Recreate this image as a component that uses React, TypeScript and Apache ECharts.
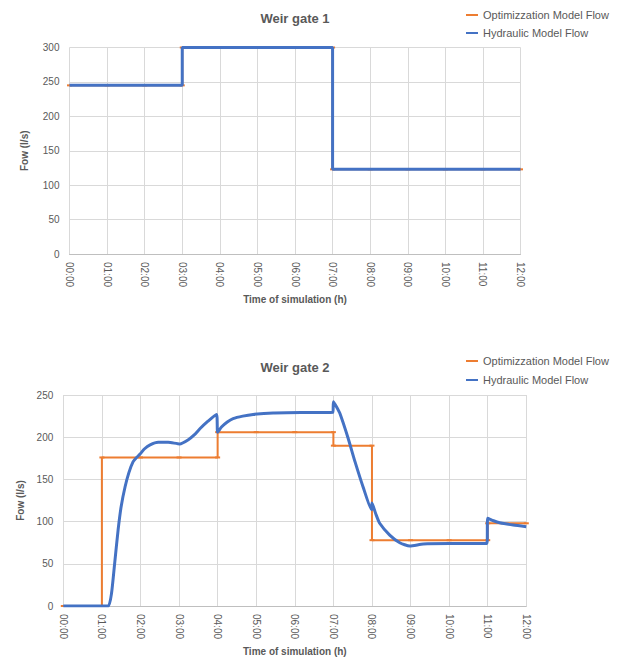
import React, { useEffect, useRef } from 'react';
import * as echarts from 'echarts';

const timeLabels = ['00:00', '01:00', '02:00', '03:00', '04:00', '05:00', '06:00', '07:00', '08:00', '09:00', '10:00', '11:00', '12:00'];
const seriesNames = ['Optimizzation Model Flow', 'Hydraulic Model Flow'];

// Weir gate 1 (hours, l/s)
const gate1OptTime = [0, 1, 2, 3, 3, 4, 5, 6, 7, 7, 8, 9, 10, 11, 12];
const gate1OptFlow = [245, 245, 245, 245, 300, 300, 300, 300, 300, 123, 123, 123, 123, 123, 123];
const gate1HydTime = [0, 3, 3, 7, 7, 12];
const gate1HydFlow = [245, 245, 300, 300, 123, 123];

// Weir gate 2 (hours, l/s)
const gate2OptTime = [0, 1, 1, 2, 3, 4, 4, 5, 6, 7, 7, 8, 8, 9, 10, 11, 11, 12];
const gate2OptFlow = [0, 0, 176, 176, 176, 176, 206, 206, 206, 206, 190, 190, 78, 78, 78, 78, 98, 98];
const gate2HydTime = [0, 0.5, 1, 1.17, 1.25, 1.33, 1.42, 1.5, 1.6, 1.7, 1.81, 1.9, 1.99, 2.1, 2.25, 2.46, 2.72, 3.02, 3.24, 3.4, 3.54, 3.75, 3.97, 4.0, 4.1, 4.25, 4.4, 4.65, 4.92, 5.44, 6.3, 6.99, 7.0, 7.08, 7.17, 7.38, 7.56, 7.77, 7.99, 8.0, 8.1, 8.2, 8.46, 8.72, 8.98, 9.33, 10.02, 10.98, 11.0, 11.15, 11.31, 11.66, 12.0];
const gate2HydFlow = [0, 0, 0, 0, 15, 50, 90, 118, 141, 158, 171, 176, 180, 186, 191, 194, 194, 192, 197, 203, 210, 219, 227, 206, 212, 218, 222, 225, 227, 228.7, 229.3, 229.6, 242, 236, 228, 199, 171, 141, 114, 122, 109, 98, 84, 75, 71, 73.5, 74, 74, 104, 101, 98.7, 96, 94];

const ORANGE = '#ED7D31';
const BLUE = '#4472C4';
const TEXT = '#595959';
const GRID = '#d9d9d9';
const FONT = '"Liberation Sans", Arial, sans-serif';

const pairs = (t: number[], v: number[]) => t.map((x, i) => [x, v[i]]);

function xAxis(gridIndex: number) {
  return {
    type: 'value',
    gridIndex,
    min: 0,
    max: 12,
    interval: 1,
    name: 'Time of simulation (h)',
    nameLocation: 'middle',
    nameGap: 40,
    nameTextStyle: { color: TEXT, fontWeight: 'bold', fontSize: 10, fontFamily: FONT },
    axisLine: { show: true, lineStyle: { color: '#bfbfbf', width: 1 } },
    axisTick: { show: false },
    axisLabel: {
      rotate: -90,
      color: TEXT,
      fontSize: 10,
      fontFamily: FONT,
      margin: 8,
      formatter: (v: number) => timeLabels[Math.round(v)] ?? '',
    },
    splitLine: { show: true, lineStyle: { color: GRID, width: 1 } },
  };
}

function yAxis(gridIndex: number, max: number, nameGap: number) {
  return {
    type: 'value',
    gridIndex,
    min: 0,
    max,
    interval: 50,
    name: 'Fow (l/s)',
    nameLocation: 'middle',
    nameGap,
    nameTextStyle: { color: TEXT, fontWeight: 'bold', fontSize: 10, fontFamily: FONT },
    axisLine: { show: false },
    axisTick: { show: false },
    axisLabel: { color: TEXT, fontSize: 10, fontFamily: FONT, margin: 10 },
    splitLine: { show: true, lineStyle: { color: GRID, width: 1 } },
  };
}

function legend(top: number, gap: number) {
  return {
    orient: 'vertical',
    left: 466,
    top,
    padding: 0,
    selectedMode: false,
    icon: 'rect',
    itemWidth: 12,
    itemHeight: 2,
    itemGap: gap,
    itemTextGap: 2,
    textStyle: { color: TEXT, fontSize: 11, fontFamily: FONT, lineHeight: 14 },
    data: seriesNames,
  };
}

export default function App() {
  const ref = useRef<HTMLDivElement>(null);
  useEffect(() => {
    if (!ref.current) return;
    const chart = echarts.init(ref.current, undefined, { renderer: 'svg' });
    const optSeries = (xi: number, data: number[][]) => ({
      name: seriesNames[0],
      type: 'line',
      xAxisIndex: xi,
      yAxisIndex: xi,
      data,
      symbol: 'rect',
      symbolSize: [5, 2],
      showSymbol: true,
      itemStyle: { color: ORANGE },
      lineStyle: { color: ORANGE, width: 2 },
      z: 2,
    });
    const hydSeries = (xi: number, data: number[][], smooth: number) => ({
      name: seriesNames[1],
      type: 'line',
      xAxisIndex: xi,
      yAxisIndex: xi,
      data,
      smooth,
      symbol: 'none',
      itemStyle: { color: BLUE },
      lineStyle: { color: BLUE, width: 3 },
      z: 3,
    });
    chart.setOption({
      animation: false,
      backgroundColor: '#ffffff',
      textStyle: { fontFamily: FONT },
      graphic: [
        { type: 'text', x: 295, y: 18, style: { text: 'Weir gate 1', fill: TEXT, font: `bold 13px ${FONT}`, align: 'center', verticalAlign: 'middle' } },
        { type: 'text', x: 295, y: 367, style: { text: 'Weir gate 2', fill: TEXT, font: `bold 13px ${FONT}`, align: 'center', verticalAlign: 'middle' } },
      ],
      legend: [legend(8, 4), legend(354, 5)],
      grid: [
        { left: 69.5, top: 47.5, width: 451, height: 206.5 },
        { left: 63.3, top: 395, width: 463, height: 211 },
      ],
      xAxis: [xAxis(0), xAxis(1)],
      yAxis: [yAxis(0, 300, 40), yAxis(1, 250, 38)],
      series: [
        optSeries(0, pairs(gate1OptTime, gate1OptFlow)),
        hydSeries(0, pairs(gate1HydTime, gate1HydFlow), 0),
        optSeries(1, pairs(gate2OptTime, gate2OptFlow)),
        hydSeries(1, pairs(gate2HydTime, gate2HydFlow), 0.2),
      ],
    });
    return () => chart.dispose();
  }, []);
  return <div ref={ref} style={{ position: 'fixed', left: 0, top: 0, width: 624, height: 660, background: '#fff' }} />;
}
